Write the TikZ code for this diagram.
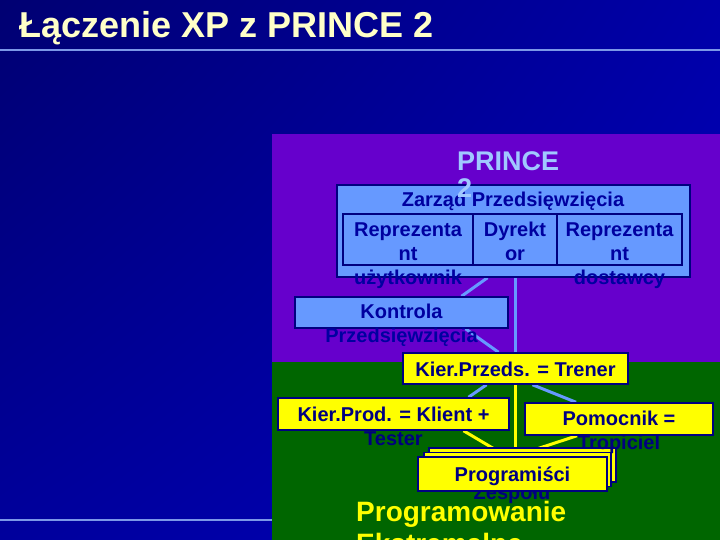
\documentclass[tikz,border=0pt]{standalone}
\usepackage{fontspec}
\setmainfont{Liberation Sans}
\usetikzlibrary{calc,shadings}
\definecolor{bgUL}{HTML}{000072}
\definecolor{bgUR}{HTML}{0000A8}
\definecolor{bgLL}{HTML}{00009C}
\definecolor{bgLR}{HTML}{0000C0}
\definecolor{rule}{HTML}{7C98E8}
\definecolor{titlecol}{HTML}{FFFFC8}
\definecolor{purp}{HTML}{6600CC}
\definecolor{grn}{HTML}{006600}
\definecolor{lblue}{HTML}{6699FF}
\definecolor{pblue}{HTML}{A0C8FF}
\definecolor{navy}{HTML}{0000A0}
\definecolor{dnavy}{HTML}{000080}
\definecolor{yel}{HTML}{FFFF00}
\pgfdeclarelayer{back}
\pgfdeclarelayer{lines}
\pgfsetlayers{back,lines,main}
\tikzset{
  bluebox/.style={draw=dnavy, line width=1.5pt, fill=lblue, inner sep=0pt},
  yelbox/.style={draw=dnavy, line width=1.5pt, fill=yel, inner sep=0pt},
  txt/.style={font=\fontsize{20}{24}\selectfont\bfseries, text=navy, align=center, inner sep=0pt, anchor=base},
  ytxt/.style={txt, text=dnavy},
  bconn/.style={draw=lblue, line width=3pt},
  yconn/.style={draw=yel, line width=3pt},
}
\begin{document}
\begin{tikzpicture}[x=1pt,y=-1pt]
\useasboundingbox (0,0) rectangle (720,540);
\begin{pgfonlayer}{back}
  \shade[upper left=bgUL, upper right=bgUR, lower left=bgLL, lower right=bgLR] (0,0) rectangle (720,540);
  \draw[rule, line width=1.2pt] (0,50) -- (720,50);
  \draw[rule, line width=1.2pt] (0,520) -- (272,520);
  \fill[purp] (272,134) rectangle (720,362);
  \fill[grn] (272,362) rectangle (720,540);
\end{pgfonlayer}

\node[anchor=base west, inner sep=0pt, text=titlecol, font=\fontsize{36}{40}\selectfont\bfseries] (title) at (19,38) {Łączenie XP z PRINCE 2};

% boxes
\node[bluebox, minimum width=353pt, minimum height=92pt] (board) at (513.5,231) {};
\node[draw=dnavy, line width=1.5pt, minimum width=130pt, minimum height=51pt, inner sep=0pt] (c1) at (408,239.5) {};
\node[draw=dnavy, line width=1.5pt, minimum width=84pt, minimum height=51pt, inner sep=0pt] (c2) at (515,239.5) {};
\node[draw=dnavy, line width=1.5pt, minimum width=125pt, minimum height=51pt, inner sep=0pt] (c3) at (619.5,239.5) {};
\node[bluebox, minimum width=213pt, minimum height=31pt] (kontrola) at (401.5,312.5) {};
\node[yelbox, minimum width=225pt, minimum height=31pt] (kp) at (515.5,368.5) {};
\node[yelbox, minimum width=231pt, minimum height=32pt] (kprod) at (393.5,414) {};
\node[yelbox, minimum width=188pt, minimum height=32pt] (pom) at (619,419) {};
\node[ytxt] (zesp) at (512,499) {Zespołu};
\node[yelbox, minimum width=187pt, minimum height=34pt] (prog3) at (522.5,465) {};
\node[yelbox, minimum width=187pt, minimum height=34pt] (prog2) at (517.5,469.5) {};
\node[yelbox, minimum width=189pt, minimum height=34pt] (prog) at (512.5,474) {};

% connectors
\begin{pgfonlayer}{lines}
  \draw[bconn] ([xshift=-26pt]board.south) -- ([xshift=60pt]kontrola.north);
  \draw[bconn] (board.south -| kp.north) -- (kp.north);
  \draw[bconn] ([xshift=64pt]kontrola.south) -- ([xshift=-17pt]kp.north);
  \draw[bconn] ([xshift=-29pt]kp.south) -- ([xshift=75pt]kprod.north);
  \draw[bconn] ([xshift=17pt]kp.south) -- ([xshift=-43pt]pom.north);
  \draw[yconn] (kp.south) -- (kp.south |- prog.north);
  \draw[yconn] ([xshift=70pt]kprod.south) -- ([xshift=-6pt]prog.north);
  \draw[yconn] ([xshift=-42pt]pom.south) -- ([xshift=2pt]prog.north);
\end{pgfonlayer}

% texts (base anchor = last line baseline)
\node[txt] (tzarz) at (513,207) {Zarząd Przedsięwzięcia};
\node[txt] (t1) at (408,284) {Reprezenta\\nt\\użytkownik};
\node[txt] (t2) at (515,260) {Dyrekt\\or};
\node[txt] (t3) at (619.5,284) {Reprezenta\\nt\\dostawcy};
\node[txt] (tkon) at (401.5,342) {Kontrola\\Przedsięwzięcia};
\node[ytxt] (tkp) at (515.5,376) {Kier.Przeds. = Trener};
\node[ytxt] (tkprod) at (393.5,445) {Kier.Prod. = Klient +\\Tester};
\node[ytxt] (tpom) at (619,449) {Pomocnik =\\Tropiciel};
\node[ytxt] (tprog) at (512.5,481) {Programiści};
\node[anchor=base west, inner sep=0pt, align=left, text=pblue, font=\fontsize{27}{28}\selectfont\bfseries] (prince) at (457,198) {PRINCE\\2};
\node[anchor=base west, inner sep=0pt, align=left, text=yel, font=\fontsize{28}{32}\selectfont\bfseries] (xp) at (356,553) {Programowanie\\Ekstremalne};
\end{tikzpicture}
\end{document}
